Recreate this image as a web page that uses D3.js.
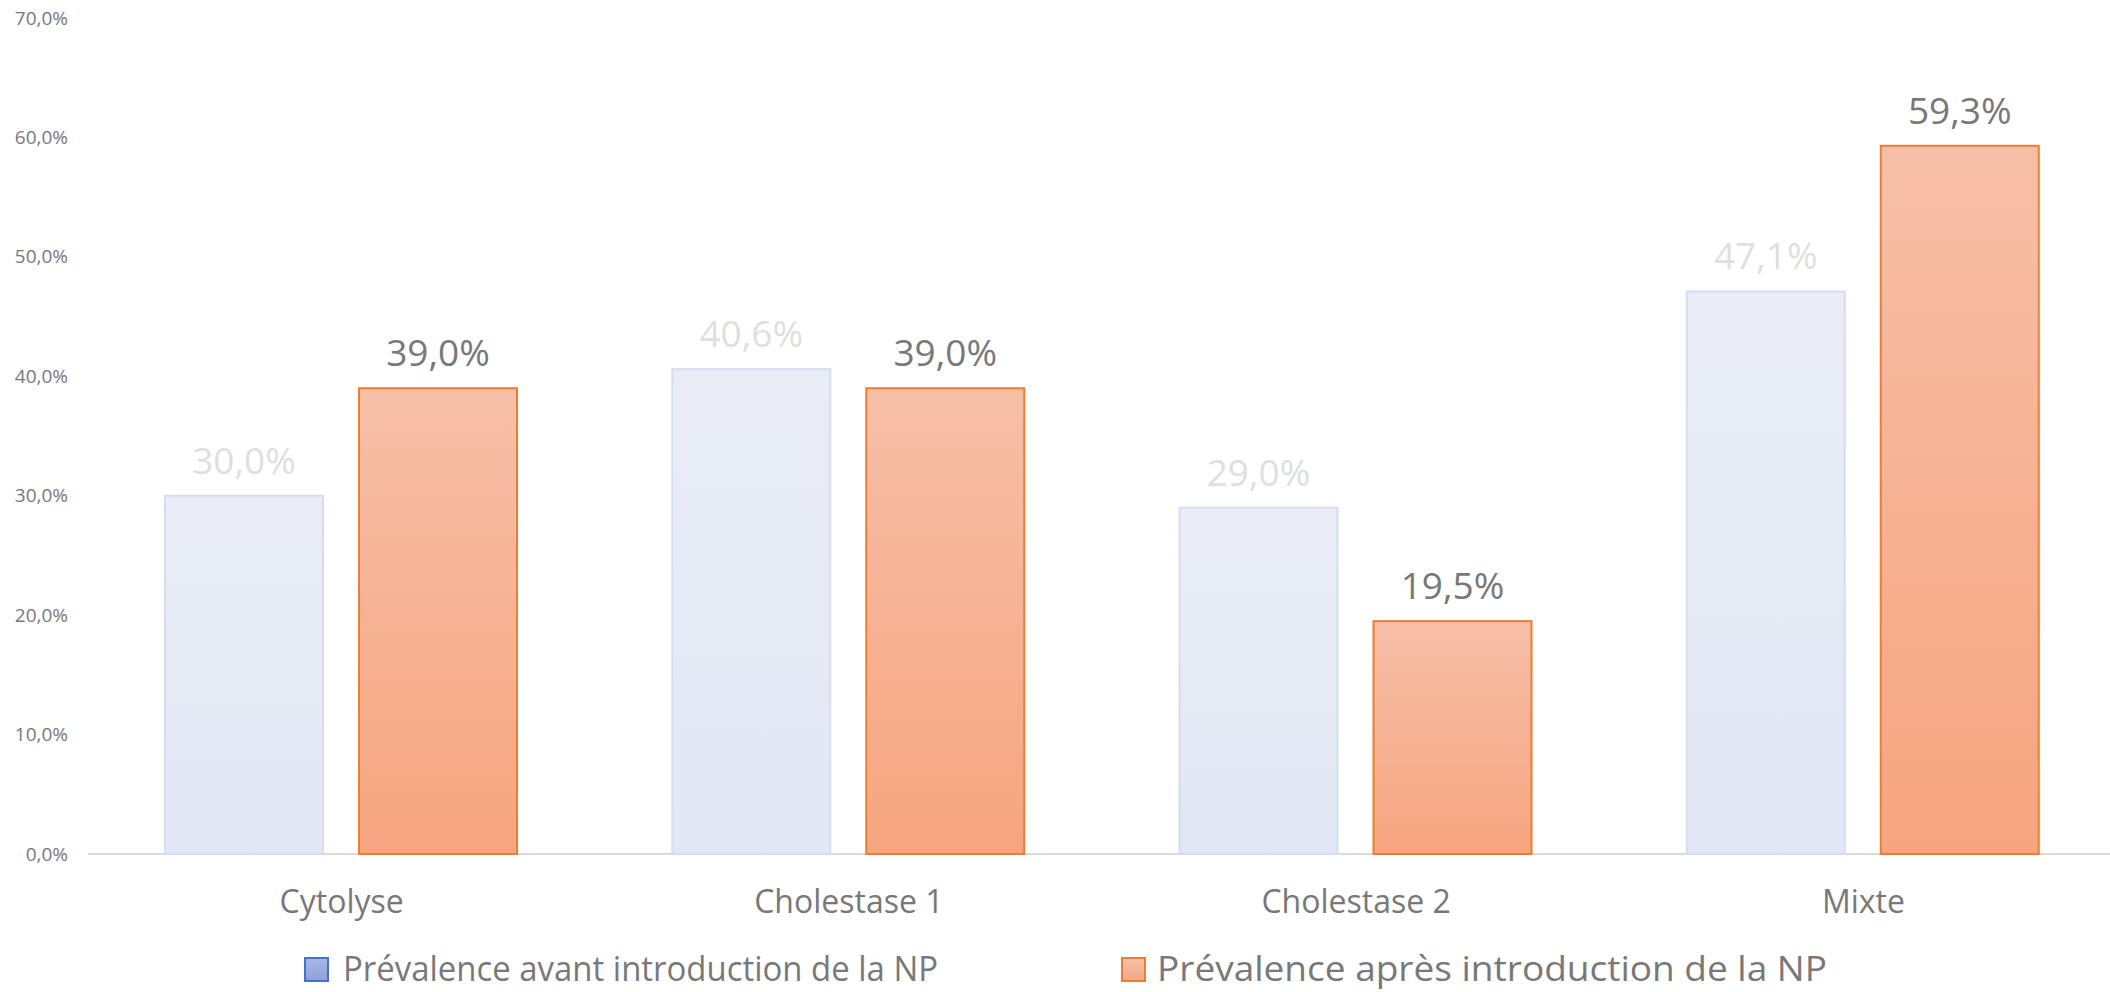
<!DOCTYPE html>
<html>
<head>
<meta charset="utf-8">
<script src="https://cdn.jsdelivr.net/npm/d3@7"></script>
<style>
  html, body { margin: 0; padding: 0; background: #ffffff; }
  svg { display: block; font-family: "Open Sans", "Noto Sans", sans-serif; }
</style>
</head>
<body>
<svg id="chart" width="2110" height="992"></svg>
<script>
// Categories and series
const categories = ["Cytolyse", "Cholestase 1", "Cholestase 2", "Mixte"];
const seriesNames = [
  "Prévalence avant introduction de la NP",
  "Prévalence après introduction de la NP"
];
const avant = [30.0, 40.6, 29.0, 47.1];
const apres = [39.0, 39.0, 19.5, 59.3];
const yTicks = [0, 10, 20, 30, 40, 50, 60, 70];

const svg = d3.select("#chart");
const fmt = v => d3.format(".1f")(v).replace(".", ",") + "%";

// Gradients
const defs = svg.append("defs");
function grad(id, top, bottom) {
  const g = defs.append("linearGradient").attr("id", id)
    .attr("x1", 0).attr("y1", 0).attr("x2", 0).attr("y2", 1);
  g.append("stop").attr("offset", "0%").attr("stop-color", top);
  g.append("stop").attr("offset", "100%").attr("stop-color", bottom);
}
grad("gAvant", "#eaedf6", "#e1e7f4");
grad("gApres", "#f7bfa8", "#f6a57f");
grad("gAvantKey", "#aab8e4", "#8aa0dc");
grad("gApresKey", "#f7c2aa", "#f4a683");

const series = [
  { name: seriesNames[0], values: avant, fill: "url(#gAvant)", stroke: "#d4ddf1", label: "#dfdfdf",
    keyFill: "url(#gAvantKey)", keyStroke: "#4472c4" },
  { name: seriesNames[1], values: apres, fill: "url(#gApres)", stroke: "#ed7d31", label: "#787878",
    keyFill: "url(#gApresKey)", keyStroke: "#ed7d31" }
];

// Scales
const y = d3.scaleLinear().domain([0, 70]).range([854, 18]);
const x0 = d3.scaleBand().domain(categories).range([88, 2117]).padding(0);
const inner0 = 77, innerLen = 352;
const x1 = d3.scaleBand().domain([0, 1])
  .range([inner0, inner0 + innerLen]).paddingInner(36 / 194).paddingOuter(0);

// Y-axis tick labels
const yAxis = d3.axisLeft(y).tickValues(yTicks).tickFormat(fmt).tickSize(0).tickPadding(0);
const yg = svg.append("g").attr("transform", "translate(68,0)").call(yAxis);
yg.select(".domain").remove();
yg.selectAll("text")
  .attr("fill", "#787878")
  .style("font-size", "19px")
  .style("font-family", "'Open Sans', sans-serif");

// Baseline
svg.append("line")
  .attr("x1", 88).attr("x2", 2110)
  .attr("y1", y(0)).attr("y2", y(0))
  .attr("stroke", "#d9d9d9").attr("stroke-width", 2);

// Bars
const groups = svg.append("g").selectAll("g.cat")
  .data(categories)
  .join("g")
  .attr("class", "cat")
  .attr("transform", d => `translate(${x0(d)},0)`);

series.forEach((s, si) => {
  groups.append("rect")
    .attr("x", x1(si))
    .attr("width", x1.bandwidth())
    .attr("y", (d, i) => y(s.values[i]))
    .attr("height", (d, i) => y(0) - y(s.values[i]))
    .attr("fill", s.fill)
    .attr("stroke", s.stroke)
    .attr("stroke-width", 2);

  groups.append("text")
    .attr("x", x1(si) + x1.bandwidth() / 2)
    .attr("y", (d, i) => y(s.values[i]) - 22)
    .attr("text-anchor", "middle")
    .attr("fill", s.label)
    .style("font-size", "37px")
    .text((d, i) => fmt(s.values[i]));
});

// Category labels
const xAxis = d3.axisBottom(x0).tickSize(0).tickPadding(0);
const xg = svg.append("g").attr("transform", `translate(0,${y(0)})`).call(xAxis);
xg.select(".domain").remove();
xg.selectAll("text")
  .attr("dy", null)
  .attr("y", 59)
  .attr("fill", "#787878")
  .style("font-size", "32px")
  .style("font-family", "'Open Sans', sans-serif");

// Legend
const legendItems = [
  { x: 305, textX: 343, textLen: 595 },
  { x: 1122, textX: 1157, textLen: 670 }
];
const legend = svg.append("g");
series.forEach((s, i) => {
  const li = legendItems[i];
  legend.append("rect")
    .attr("x", li.x).attr("y", 958)
    .attr("width", 23).attr("height", 23)
    .attr("fill", s.keyFill)
    .attr("stroke", s.keyStroke)
    .attr("stroke-width", 2);
  legend.append("text")
    .attr("x", li.textX).attr("y", 981)
    .attr("fill", "#787878")
    .attr("textLength", li.textLen)
    .attr("lengthAdjust", "spacingAndGlyphs")
    .style("font-size", "35px")
    .text(s.name);
});
</script>
</body>
</html>
